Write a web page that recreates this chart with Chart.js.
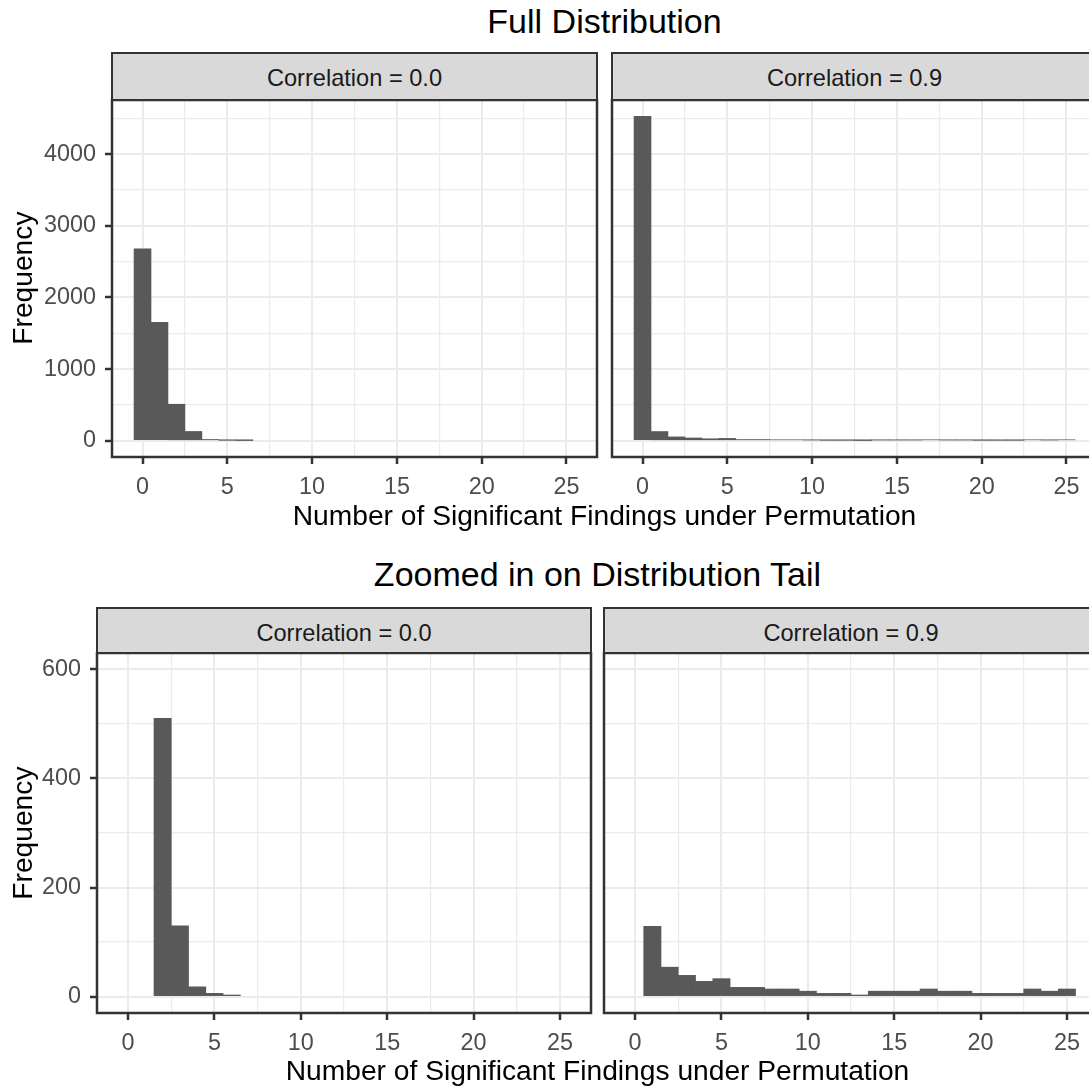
<!DOCTYPE html>
<html><head><meta charset="utf-8">
<script src="https://cdn.jsdelivr.net/npm/chart.js@4.4.1/dist/chart.umd.min.js"></script>
<style>
html,body{margin:0;padding:0;background:#fff;overflow:hidden;width:1089px;height:1088px;}
#stage{position:absolute;left:0;top:0;width:1120px;height:1088px;overflow:hidden;font-family:'Liberation Sans',Arial,sans-serif;}
canvas{position:absolute;}
.title{position:absolute;width:800px;text-align:center;font-size:34px;line-height:34px;color:#000;white-space:nowrap;}
.axt{position:absolute;width:900px;text-align:center;font-size:28.2px;line-height:28.2px;color:#000;white-space:nowrap;}
.ylab{position:absolute;width:300px;height:28.2px;text-align:center;font-size:28.2px;line-height:28.2px;color:#000;transform:rotate(-90deg);white-space:nowrap;}
.strip{position:absolute;box-sizing:border-box;background:#D9D9D9;border:2.5px solid #333333;}
.strip span{position:absolute;left:0;right:0;text-align:center;font-size:23.6px;line-height:24px;color:#1A1A1A;white-space:nowrap;}
</style></head>
<body>
<div id="stage"></div>
<script>
// ---------------- DATA ----------------
const binCenters = [0,1,2,3,4,5,6,7,8,9,10,11,12,13,14,15,16,17,18,19,20,21,22,23,24,25];
// Full distribution (all permutations)
const fullCorr00 = [2680,1653,510,130,18,6,3,0,0,0,0,0,0,0,0,0,0,0,0,0,0,0,0,0,0,0];
const fullCorr09 = [4530,129,54,39,28,33,17,17,14,14,10,6,6,3,10,10,10,14,10,10,6,6,6,14,10,14];
// Zoomed in on the tail
const tailCorr00 = [null,null,510,130,18,6,3,null,null,null,null,null,null,null,null,null,null,null,null,null,null,null,null,null,null,null];
const tailCorr09 = [null,129,54,39,28,33,17,17,14,14,10,6,6,3,10,10,10,14,10,10,6,6,6,14,10,14];
// Tick labels
const xTickLabels = [0,5,10,15,20,25];
const yTickLabelsFull = [0,1000,2000,3000,4000];
const yTickLabelsTail = [0,200,400,600];
const panelTitles = ["Correlation = 0.0","Correlation = 0.9"];
const plotTitles = ["Full Distribution","Zoomed in on Distribution Tail"];
const xAxisTitle = "Number of Significant Findings under Permutation";
const yAxisTitle = "Frequency";
const tailLimits = [0,600];

// ---------------- SCALES (ggplot-like expansion) ----------------
const binLo = binCenters[0]-0.5, binHi = binCenters[binCenters.length-1]+0.5;
const xPad = 0.05*(binHi-binLo);
const X_MIN = binLo - xPad, X_MAX = binHi + xPad;
const fullMax = Math.max(...fullCorr00, ...fullCorr09);
const FULL_Y = [-0.05*fullMax, 1.05*fullMax];
const tailSpan = tailLimits[1]-tailLimits[0];
const TAIL_Y = [tailLimits[0]-0.05*tailSpan, tailLimits[1]+0.05*tailSpan];

// major ticks + minor ticks halfway between them (ggplot minor grid), kept inside range
function gridValues(majors, lo, hi) {
  const step = majors[1] - majors[0];
  const vals = majors.slice();
  majors.forEach(m => vals.push(m + step / 2));
  vals.push(majors[0] - step / 2);
  return vals.filter(v => v >= lo && v <= hi).sort((a, b) => a - b);
}

// ---------------- STYLE ----------------
const FONT = "'Liberation Sans', Arial, sans-serif";
const TF = {family: FONT, size: 23.4};
const BAR = '#595959', GRID = '#EBEBEB', DARK = '#333333', TICKTXT = '#4D4D4D';
const PADT = 24, PADR = 4, XAXH = 48;
const stage = document.getElementById('stage');

const frame = { id:'frame', afterDraw(chart){
  const {ctx, chartArea:a} = chart;
  ctx.save(); ctx.strokeStyle = DARK; ctx.lineWidth = 2.5;
  ctx.strokeRect(a.left, a.top, a.right-a.left, a.bottom-a.top);
  ctx.restore();
}};

const near = (arr, v) => arr.some(t => Math.abs(t - v) < 1e-9);

function addDiv(cls, text, left, top, extra) {
  const d = document.createElement('div');
  d.className = cls; d.textContent = text;
  d.style.left = left + 'px'; d.style.top = top + 'px';
  if (extra) Object.assign(d.style, extra);
  stage.appendChild(d);
  return d;
}

function addStrip(text, areaLeft, areaW, stripTop, areaTop) {
  const s = document.createElement('div');
  s.className = 'strip';
  s.style.left = (areaLeft - 1.25) + 'px';
  s.style.top = (stripTop - 1.25) + 'px';
  s.style.width = (areaW + 2.5) + 'px';
  s.style.height = (areaTop - stripTop + 2.5) + 'px';
  const sp = document.createElement('span');
  sp.textContent = text;
  sp.style.top = (13.8 - 1.25) + 'px';
  s.appendChild(sp);
  stage.appendChild(s);
}

function panel(cfg) {
  const c = document.createElement('canvas');
  const W = cfg.yAxisW + cfg.areaW + PADR, H = PADT + cfg.areaH + XAXH;
  c.width = W; c.height = H;
  c.style.left = (cfg.areaLeft - cfg.yAxisW) + 'px';
  c.style.top = (cfg.areaTop - PADT) + 'px';
  c.style.width = W + 'px'; c.style.height = H + 'px';
  stage.appendChild(c);
  const pts = [];
  // empty bins (null or zero count) draw no bar
  binCenters.forEach((b, i) => { if (cfg.counts[i]) pts.push({x: b, y: cfg.counts[i]}); });
  const yMajor = cfg.yTicks;
  const xGrid = gridValues(xTickLabels, X_MIN, X_MAX);
  const yGrid = gridValues(yMajor, cfg.yRange[0], cfg.yRange[1]);
  new Chart(c, {
    type: 'bar',
    data: { datasets: [{ data: pts, backgroundColor: BAR, borderWidth: 0,
      barPercentage: 1, categoryPercentage: 1 }] },
    options: {
      responsive: false, animation: false, devicePixelRatio: 1,
      layout: { padding: { left: 0, top: PADT, right: PADR, bottom: 0 } },
      plugins: { legend: {display: false}, tooltip: {enabled: false}, title: {display: false} },
      scales: {
        x: {
          type: 'linear', offset: false, min: X_MIN, max: X_MAX,
          border: {display: false},
          grid: { offset: false, color: GRID,
            lineWidth: ctx => (ctx.tick && near(xTickLabels, ctx.tick.value)) ? 2 : 1.2,
            tickColor: ctx => (ctx.tick && near(xTickLabels, ctx.tick.value)) ? DARK : 'rgba(0,0,0,0)',
            tickWidth: 2.5, tickLength: 7, drawTicks: true },
          ticks: { autoSkip: false, maxRotation: 0, minRotation: 0,
            padding: 10, color: TICKTXT, font: TF,
            callback: v => near(xTickLabels, v) ? String(v) : '' },
          afterBuildTicks: s => { s.ticks = xGrid.map(v => ({value: v})); },
          afterFit: s => { s.height = XAXH; }
        },
        y: {
          type: 'linear', min: cfg.yRange[0], max: cfg.yRange[1], beginAtZero: false,
          border: {display: false},
          grid: { color: GRID,
            lineWidth: ctx => (ctx.tick && near(yMajor, ctx.tick.value)) ? 2 : 1.2,
            tickColor: ctx => (cfg.showY && ctx.tick && near(yMajor, ctx.tick.value)) ? DARK : 'rgba(0,0,0,0)',
            tickWidth: 2.5, tickLength: 7, drawTicks: cfg.showY },
          ticks: { autoSkip: false, display: cfg.showY,
            padding: 9, color: TICKTXT, font: TF,
            callback: v => near(yMajor, v) ? String(v) : '' },
          afterBuildTicks: s => { s.ticks = yGrid.map(v => ({value: v})); },
          afterFit: s => { s.width = cfg.yAxisW; }
        }
      }
    },
    plugins: [frame]
  });
}

// ---------------- LAYOUT ----------------
const T = { stripTop: 53, areaTop: 100, areaH: 357, lefts: [112, 612], areaW: 485, yW: [112, 8] };
const B = { stripTop: 608, areaTop: 653, areaH: 360, lefts: [97, 604], areaW: 494, yW: [97, 8] };

[fullCorr00, fullCorr09].forEach((counts, k) => {
  panel({ areaLeft: T.lefts[k], areaTop: T.areaTop, areaW: T.areaW, areaH: T.areaH, yAxisW: T.yW[k],
    counts, yRange: FULL_Y, yTicks: yTickLabelsFull, showY: k === 0 });
  addStrip(panelTitles[k], T.lefts[k], T.areaW, T.stripTop, T.areaTop);
});
[tailCorr00, tailCorr09].forEach((counts, k) => {
  panel({ areaLeft: B.lefts[k], areaTop: B.areaTop, areaW: B.areaW, areaH: B.areaH, yAxisW: B.yW[k],
    counts, yRange: TAIL_Y, yTicks: yTickLabelsTail, showY: k === 0 });
  addStrip(panelTitles[k], B.lefts[k], B.areaW, B.stripTop, B.areaTop);
});

const topCenter = (T.lefts[0] + T.lefts[1] + T.areaW) / 2;
const botCenter = (B.lefts[0] + B.lefts[1] + B.areaW) / 2;
addDiv('title', plotTitles[0], topCenter - 400, 4);
addDiv('title', plotTitles[1], botCenter - 400, 557);
addDiv('axt', xAxisTitle, topCenter - 450, 501);
addDiv('axt', xAxisTitle, botCenter - 450, 1056);
const ylabCx = 22.1;
addDiv('ylab', yAxisTitle, ylabCx - 150, (T.areaTop + T.areaTop + T.areaH) / 2 - 14.1);
addDiv('ylab', yAxisTitle, ylabCx - 150, (B.areaTop + B.areaTop + B.areaH) / 2 - 14.1);
</script>
</body></html>
